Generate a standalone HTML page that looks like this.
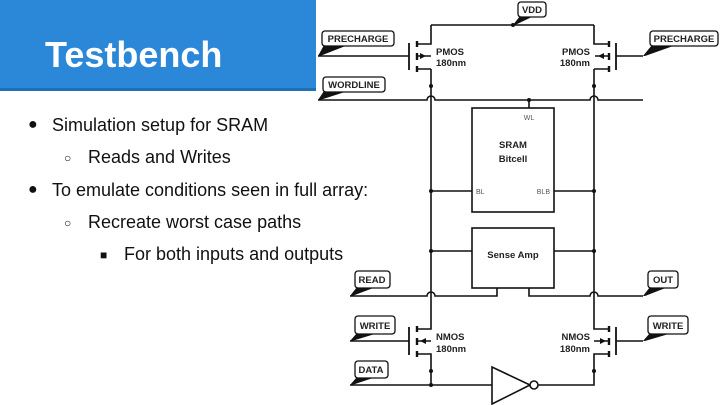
<!DOCTYPE html>
<html><head><meta charset="utf-8"><style>
html,body{margin:0;padding:0;background:#fff;}
body{width:720px;height:405px;position:relative;overflow:hidden;font-family:"Liberation Sans",Arial,sans-serif;}
.hdr{position:absolute;left:0;top:0;width:316px;height:88px;background:#2b88d9;border-bottom:3px solid #1f6fb8;}
.hdr h1{position:absolute;left:45px;top:34px;margin:0;color:#fff;font-size:36px;font-weight:bold;}
.t{position:absolute;font-size:18px;color:#111;white-space:nowrap;}
svg{position:absolute;left:0;top:0;}
</style></head><body>
<div class="hdr"><h1>Testbench</h1></div>
<div class="t" style="left:28px;top:116px;font-size:16px">●</div>
<div class="t" style="left:52px;top:115px">Simulation setup for SRAM</div>
<div class="t" style="left:64px;top:151px;font-size:12px">○</div>
<div class="t" style="left:88px;top:147px">Reads and Writes</div>
<div class="t" style="left:28px;top:181px;font-size:16px">●</div>
<div class="t" style="left:52px;top:180px">To emulate conditions seen in full array:</div>
<div class="t" style="left:64px;top:216px;font-size:12px">○</div>
<div class="t" style="left:88px;top:212px">Recreate worst case paths</div>
<div class="t" style="left:100px;top:248px;font-size:12px">■</div>
<div class="t" style="left:124px;top:244px">For both inputs and outputs</div>

<svg width="720" height="405" viewBox="0 0 720 405" fill="none" stroke="#111" stroke-width="1.6" font-family="Liberation Sans, Arial, sans-serif" font-weight="bold">
<path d="M431 25 H594 M431 25 V44 H417 M594 25 V44 H609"/>
<path d="M417 41 V47 M417 53 V60 M417 66 V72" stroke-width="2.4"/>
<path d="M409 43 V70" stroke-width="1.8"/>
<path d="M417 56 H431 M417 69 H431 M318 56 H409"/>
<polygon points="426,56 420,53 420,59" fill="#111" stroke="none"/>
<path d="M609 41 V47 M609 53 V60 M609 66 V72" stroke-width="2.4"/>
<path d="M616 43 V70" stroke-width="1.8"/>
<path d="M609 56 H595 M609 69 H594 M616 56 H643"/>
<polygon points="598,56 604,53 604,59" fill="#111" stroke="none"/>
<path d="M431 69 V329 H417"/>
<path d="M594 69 V329 H609"/>
<path d="M318 100 H427 A4 4 0 0 1 435 100 H590 A4 4 0 0 1 598 100 H643"/>
<path d="M529 100 V108"/>
<rect x="472" y="108" width="82" height="104"/>
<path d="M431 191 H472 M554 191 H594"/>
<rect x="472" y="228" width="82" height="60"/>
<path d="M431 251 H472 M554 251 H594"/>
<path d="M497 288 V296 H435 A4 4 0 0 0 427 296 H350"/>
<path d="M529 288 V296 H590 A4 4 0 0 1 598 296 H643"/>
<path d="M417 326 V332 M417 338 V345 M417 351 V357" stroke-width="2.4"/>
<path d="M409 327 V355" stroke-width="1.8"/>
<path d="M417 341 H431 M417 354 H431 V385 M350 341 H409"/>
<polygon points="420,341 426,338 426,344" fill="#111" stroke="none"/>
<path d="M609 326 V332 M609 338 V345 M609 351 V357" stroke-width="2.4"/>
<path d="M616 327 V355" stroke-width="1.8"/>
<path d="M609 341 H594 M609 354 H594 V385 H538 M616 341 H643"/>
<polygon points="606,341 600,338 600,344" fill="#111" stroke="none"/>
<path d="M350 385 H492"/>
<polygon points="492,367 492,404 530,385" fill="#fff"/>
<circle cx="534" cy="385" r="4" fill="#fff"/>
<g fill="#111" stroke="none">
<circle cx="513" cy="25" r="2"/>
<circle cx="431" cy="86" r="2"/><circle cx="594" cy="86" r="2"/>
<circle cx="529" cy="100" r="2"/>
<circle cx="431" cy="191" r="2"/><circle cx="594" cy="191" r="2"/>
<circle cx="431" cy="251" r="2"/><circle cx="594" cy="251" r="2"/>
<circle cx="431" cy="371" r="2"/><circle cx="594" cy="371" r="2"/>
<circle cx="431" cy="385" r="2"/>
</g>
<g fill="#111" stroke="none">
<polygon points="324,45 348,45 320,56 318,56"/>
<polygon points="324,91 348,91 320,100 318,100"/>
<polygon points="520,16 534,16 515,25 513,25"/>
<polygon points="652,45 676,45 645,56 643,56"/>
<polygon points="357,287 376,287 352,296 350,296"/>
<polygon points="650,287 668,287 645,296 643,296"/>
<polygon points="357,333 378,333 352,341 350,341"/>
<polygon points="650,333 672,333 645,341 643,341"/>
<polygon points="357,377 376,377 352,385 350,385"/>
</g>
<g stroke-width="1.3" fill="#fff">
<rect x="322" y="31" width="72" height="15" rx="3"/>
<rect x="323" y="77" width="62" height="15" rx="3"/>
<rect x="518" y="2" width="28" height="15" rx="3"/>
<rect x="650" y="31" width="68" height="15" rx="3"/>
<rect x="355" y="271" width="35" height="17" rx="3"/>
<rect x="648" y="271" width="30" height="17" rx="3"/>
<rect x="355" y="316" width="40" height="18" rx="3"/>
<rect x="648" y="316" width="40" height="18" rx="3"/>
<rect x="355" y="361" width="33" height="17" rx="3"/>
</g>
<g fill="#222" stroke="none" font-size="9.5">
<text x="358" y="42" text-anchor="middle">PRECHARGE</text>
<text x="354" y="88" text-anchor="middle">WORDLINE</text>
<text x="532" y="13" text-anchor="middle">VDD</text>
<text x="684" y="42" text-anchor="middle">PRECHARGE</text>
<text x="372" y="283" text-anchor="middle">READ</text>
<text x="663" y="283" text-anchor="middle">OUT</text>
<text x="375" y="329" text-anchor="middle">WRITE</text>
<text x="668" y="329" text-anchor="middle">WRITE</text>
<text x="371" y="373" text-anchor="middle">DATA</text>
<text x="436" y="55">PMOS</text><text x="436" y="66">180nm</text>
<text x="590" y="55" text-anchor="end">PMOS</text><text x="590" y="66" text-anchor="end">180nm</text>
<text x="436" y="340">NMOS</text><text x="436" y="352">180nm</text>
<text x="590" y="340" text-anchor="end">NMOS</text><text x="590" y="352" text-anchor="end">180nm</text>
<text x="513" y="148" text-anchor="middle">SRAM</text>
<text x="513" y="162" text-anchor="middle">Bitcell</text>
<text x="513" y="258" text-anchor="middle">Sense Amp</text>
</g>
<g fill="#555" stroke="none" font-size="7" font-weight="normal">
<text x="529" y="120" text-anchor="middle">WL</text>
<text x="476" y="194">BL</text>
<text x="550" y="194" text-anchor="end">BLB</text>
</g>
</svg>
</body></html>
